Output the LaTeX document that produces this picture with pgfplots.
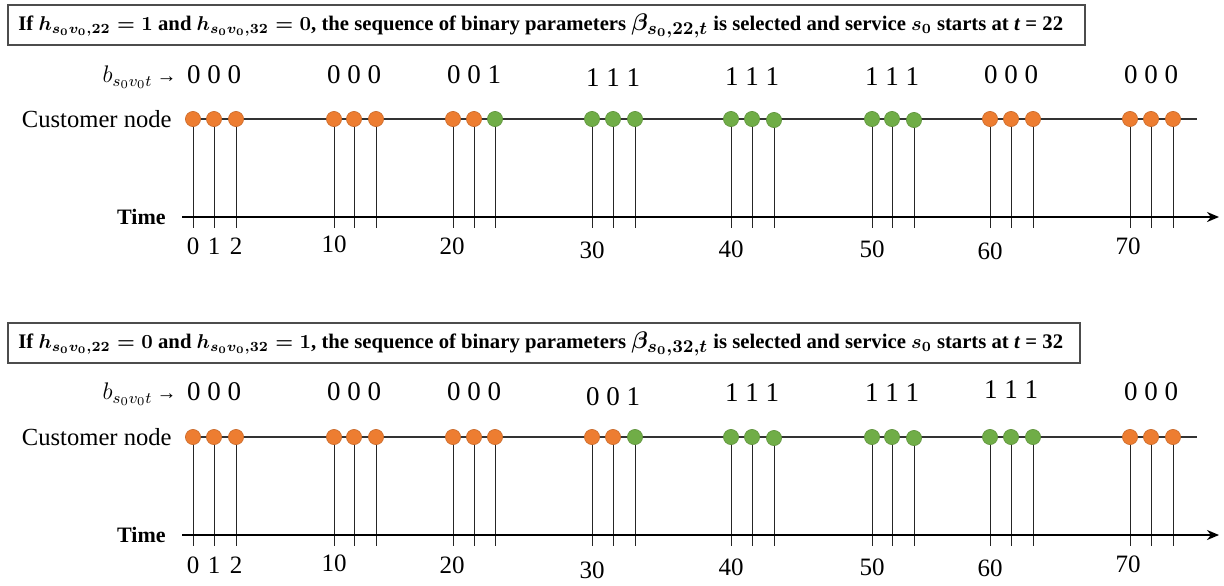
\documentclass[border=0pt]{standalone}
\usepackage{pgfplots}
\pgfplotsset{compat=1.18}
\usetikzlibrary{arrows.meta}
\usepackage{fontspec}
\setmainfont{Liberation Serif}
\definecolor{dotorange}{HTML}{ED7D31}
\definecolor{dotgreen}{HTML}{70AD47}
\newcommand{\ttl}{\fontsize{10.35pt}{11pt}\selectfont\bfseries}
\newcommand{\dig}{\fontsize{13.5pt}{15pt}\selectfont}
\newcommand{\bl}{\fontsize{12pt}{14pt}\selectfont}
\newcommand{\tck}{\fontsize{12.5pt}{14pt}\selectfont}
\newcommand{\cust}{\fontsize{12.3pt}{14pt}\selectfont}
\newcommand{\tim}{\fontsize{11pt}{13pt}\selectfont\bfseries}
\newcommand{\bigbeta}[1]{{\fontsize{12.8pt}{13pt}\selectfont\boldmath$\beta_{#1}$}}
\begin{document}
\begin{tikzpicture}
\begin{axis}[x=0.5pt,y=0.5pt,xmin=0,xmax=1224,ymin=0,ymax=582,y dir=reverse,hide axis,clip=false]
\path[fill=white] (axis cs:0,0) rectangle (axis cs:1224,582);
% ---------- panel 1 ----------
\draw[black!70, line width=0.8pt] (axis cs:8,5) rectangle (axis cs:1085,45);
\node[anchor=west, inner sep=0pt] at (axis cs:18,26) {\ttl If {\boldmath$h_{s_0v_0,22}=1$} and {\boldmath$h_{s_0v_0,32}=0$}, the sequence of binary parameters \bigbeta{s_0,22,t} is selected and service {\boldmath$s_0$} starts at \textit{t} = 22};
\pgfplotsinvokeforeach{193,214,236,334,354,376,453,474,495,592,613,635,731,752,774,872,892,914,990,1011,1033,1130,1151,1173}{
  \addplot[black!85, line width=0.5pt] coordinates {(#1,119) (#1,228)};
}
\addplot[black!80, line width=0.8pt] coordinates {(193,119) (1197,119)};
\addplot[black, line width=1pt, -{Stealth[length=6pt,width=5pt]}] coordinates {(182,217) (1219,217)};
\addplot[only marks, mark=*, mark size=3.8pt, mark options={fill=dotorange, draw=dotorange!85!black, line width=0.3pt}] coordinates {
(193,119) (214,119) (236,119) (334,119) (354,119) (376,119) (453,119) (474,119)
(990,119) (1011,119) (1033,119) (1130,119) (1151,119) (1173,119)};
\addplot[only marks, mark=*, mark size=3.8pt, mark options={fill=dotgreen, draw=dotgreen!85!black, line width=0.3pt}] coordinates {
(495,119) (592,119) (613,119) (635,119) (731,119) (752,119) (774,120) (872,119) (892,119) (914,120)};
\node[anchor=east, inner sep=0pt] at (axis cs:172,119) {\cust Customer node};
\node[anchor=east, inner sep=0pt] at (axis cs:166,217) {\tim Time};
\node[anchor=east, inner sep=0pt] at (axis cs:177,77) {\bl $b_{s_0v_0t}$\,{\fontsize{10pt}{12pt}\selectfont →}};
\node at (axis cs:214,75) {\dig 0 0 0};
\node at (axis cs:354,75) {\dig 0 0 0};
\node at (axis cs:474,75) {\dig 0 0 1};
\node at (axis cs:613,78) {\dig 1 1 1};
\node at (axis cs:752,77) {\dig 1 1 1};
\node at (axis cs:892,77) {\dig 1 1 1};
\node at (axis cs:1011,75) {\dig 0 0 0};
\node at (axis cs:1151,75) {\dig 0 0 0};
\node at (axis cs:193,246) {\tck 0};
\node at (axis cs:214,246) {\tck 1};
\node at (axis cs:236,246) {\tck 2};
\node at (axis cs:334,244) {\tck 10};
\node at (axis cs:452,246) {\tck 20};
\node at (axis cs:592,250) {\tck 30};
\node at (axis cs:731,249) {\tck 40};
\node at (axis cs:872,249) {\tck 50};
\node at (axis cs:990,251) {\tck 60};
\node at (axis cs:1128,246) {\tck 70};
% ---------- panel 2 ----------
\draw[black!70, line width=0.8pt] (axis cs:8,323) rectangle (axis cs:1080,363);
\node[anchor=west, inner sep=0pt] at (axis cs:18,344) {\ttl If {\boldmath$h_{s_0v_0,22}=0$} and {\boldmath$h_{s_0v_0,32}=1$}, the sequence of binary parameters \bigbeta{s_0,32,t} is selected and service {\boldmath$s_0$} starts at \textit{t} = 32};
\pgfplotsinvokeforeach{193,214,236,334,354,376,453,474,495,592,613,635,731,752,774,872,892,914,990,1011,1033,1130,1151,1173}{
  \addplot[black!85, line width=0.5pt] coordinates {(#1,437) (#1,546)};
}
\addplot[black!80, line width=0.8pt] coordinates {(193,437) (1197,437)};
\addplot[black, line width=1pt, -{Stealth[length=6pt,width=5pt]}] coordinates {(182,535) (1219,535)};
\addplot[only marks, mark=*, mark size=3.8pt, mark options={fill=dotorange, draw=dotorange!85!black, line width=0.3pt}] coordinates {
(193,437) (214,437) (236,437) (334,437) (354,437) (376,437) (453,437) (474,437) (495,437) (592,437) (613,437)
(1130,437) (1151,437) (1173,437)};
\addplot[only marks, mark=*, mark size=3.8pt, mark options={fill=dotgreen, draw=dotgreen!85!black, line width=0.3pt}] coordinates {
(635,437) (731,437) (752,437) (774,438) (872,437) (892,437) (914,438) (990,437) (1011,437) (1033,437)};
\node[anchor=east, inner sep=0pt] at (axis cs:172,437) {\cust Customer node};
\node[anchor=east, inner sep=0pt] at (axis cs:166,535) {\tim Time};
\node[anchor=east, inner sep=0pt] at (axis cs:177,394) {\bl $b_{s_0v_0t}$\,{\fontsize{10pt}{12pt}\selectfont →}};
\node at (axis cs:214,392) {\dig 0 0 0};
\node at (axis cs:354,392) {\dig 0 0 0};
\node at (axis cs:474,392) {\dig 0 0 0};
\node at (axis cs:613,397) {\dig 0 0 1};
\node at (axis cs:752,393) {\dig 1 1 1};
\node at (axis cs:892,393) {\dig 1 1 1};
\node at (axis cs:1011,390) {\dig 1 1 1};
\node at (axis cs:1151,392) {\dig 0 0 0};
\node at (axis cs:193,565) {\tck 0};
\node at (axis cs:214,565) {\tck 1};
\node at (axis cs:236,565) {\tck 2};
\node at (axis cs:334,563) {\tck 10};
\node at (axis cs:452,565) {\tck 20};
\node at (axis cs:592,570) {\tck 30};
\node at (axis cs:731,567) {\tck 40};
\node at (axis cs:872,567) {\tck 50};
\node at (axis cs:990,568) {\tck 60};
\node at (axis cs:1128,564) {\tck 70};
\end{axis}
\end{tikzpicture}
\end{document}
